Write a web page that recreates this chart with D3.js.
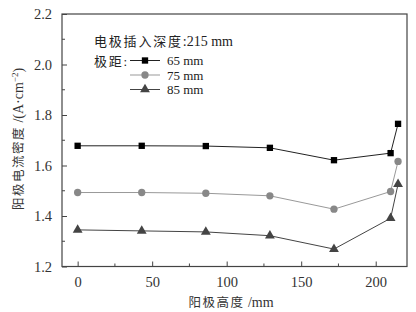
<!DOCTYPE html>
<html><head><meta charset="utf-8">
<script src="https://cdn.jsdelivr.net/npm/d3@7/dist/d3.min.js"></script>
<style>body{margin:0;background:#fff}svg{display:block}</style>
</head><body>
<svg id="c" width="416" height="312"></svg>
<script>
const heights = [0, 43, 86, 129, 172, 210, 215];
const s65 = [1.678, 1.678, 1.677, 1.670, 1.621, 1.649, 1.765];
const s75 = [1.493, 1.493, 1.490, 1.480, 1.427, 1.497, 1.616];
const s85 = [1.345, 1.341, 1.337, 1.322, 1.269, 1.391, 1.526];
const seriesNames = ["65 mm", "75 mm", "85 mm"];
const xTicks = [0, 50, 100, 150, 200];
const yTicks = [1.2, 1.4, 1.6, 1.8, 2.0, 2.2];

const svg = d3.select("#c");
const L = 62, R = 407, T = 14, B = 266.5;
const x = d3.scaleLinear().domain([-10.5, 221]).range([L, R]);
const y = d3.scaleLinear().domain([1.2, 2.2]).range([B, T]);
const serif = "'Liberation Serif','Noto Sans CJK SC',serif";

// frame
svg.append("rect").attr("x", L).attr("y", T).attr("width", R - L).attr("height", B - T)
  .attr("fill", "none").attr("stroke", "#444").attr("stroke-width", 1.2);

// axes with inward ticks
const xAxis = d3.axisBottom(x).tickValues(xTicks).tickSize(-5).tickPadding(10).tickFormat(d3.format("d"));
const gx = svg.append("g").attr("transform", `translate(0,${B})`).call(xAxis);
const xMinor = d3.range(25, 221, 50);
gx.selectAll(".minor").data(xMinor).enter().append("line")
  .attr("x1", d => x(d)).attr("x2", d => x(d)).attr("y1", 0).attr("y2", -3).attr("stroke", "#444");
const yAxis = d3.axisLeft(y).tickValues(yTicks).tickSize(-5).tickPadding(10).tickFormat(d3.format(".1f"));
const gy = svg.append("g").attr("transform", `translate(${L},0)`).call(yAxis);
const yMinor = [1.3, 1.5, 1.7, 1.9, 2.1];
gy.selectAll(".minor").data(yMinor).enter().append("line")
  .attr("y1", d => y(d)).attr("y2", d => y(d)).attr("x1", 0).attr("x2", 3).attr("stroke", "#444");
[gx, gy].forEach(g => {
  g.select(".domain").remove();
  g.selectAll(".tick line").attr("stroke", "#444");
  g.selectAll("text").attr("font-family", serif).attr("font-size", 14.5).attr("fill", "#333");
});

const series = [
  {vals: s65, line: "#222", fill: "#000", sym: d3.symbolSquare, size: 40},
  {vals: s75, line: "#999", fill: "#888", sym: d3.symbolCircle, size: 42},
  {vals: s85, line: "#444", fill: "#444", sym: d3.symbolTriangle, size: 42}
];
const line = d3.line().x((d, i) => x(heights[i])).y(d => y(d));
series.forEach(s => {
  svg.append("path").attr("d", line(s.vals)).attr("fill", "none")
    .attr("stroke", s.line).attr("stroke-width", 1);
  svg.selectAll(null).data(s.vals).enter().append("path")
    .attr("d", d3.symbol().type(s.sym).size(s.size))
    .attr("transform", (d, i) => `translate(${x(heights[i])},${y(d)})`)
    .attr("fill", s.fill);
});

// legend
const lt = svg.append("text").attr("x", 94).attr("y", 46).attr("font-family", serif).attr("font-size", 13)
  .attr("fill", "#222");
lt.append("tspan").attr("letter-spacing", 1.8).text("电极插入深度");
lt.append("tspan").attr("font-size", 14).text(":215 mm");
svg.append("text").attr("x", 94).attr("y", 65.5).attr("font-family", serif).attr("font-size", 13)
  .attr("fill", "#222").attr("letter-spacing", 1.8).text("极距:");
const ly = [60.5, 75, 89.5];
series.forEach((s, i) => {
  svg.append("line").attr("x1", 130).attr("x2", 160).attr("y1", ly[i]).attr("y2", ly[i])
    .attr("stroke", s.line).attr("stroke-width", 1);
  svg.append("path").attr("d", d3.symbol().type(s.sym).size(s.size)())
    .attr("transform", `translate(145,${ly[i]})`).attr("fill", s.fill);
  svg.append("text").attr("x", 167).attr("y", ly[i] + 4.5).attr("font-family", serif)
    .attr("font-size", 13).attr("fill", "#222").text(seriesNames[i]);
});

// axis titles
const xt = svg.append("text").attr("x", 231).attr("y", 307).attr("text-anchor", "middle")
  .attr("font-family", serif).attr("font-size", 12.5).attr("fill", "#333");
xt.append("tspan").attr("letter-spacing", 1.5).text("阳极高度");
xt.append("tspan").attr("font-size", 14).text(" /mm");
const yt = svg.append("text").attr("transform", "translate(23,139) rotate(-90)")
  .attr("text-anchor", "middle").attr("font-family", serif).attr("font-size", 12.5).attr("fill", "#333");
yt.append("tspan").attr("letter-spacing", 1.5).text("阳极电流密度");
yt.append("tspan").attr("font-size", 14).text(" /(A·cm");
yt.append("tspan").attr("dy", -5).attr("font-size", 9).text("−2");
yt.append("tspan").attr("dy", 5).attr("font-size", 14).text(")");
</script>
</body></html>
